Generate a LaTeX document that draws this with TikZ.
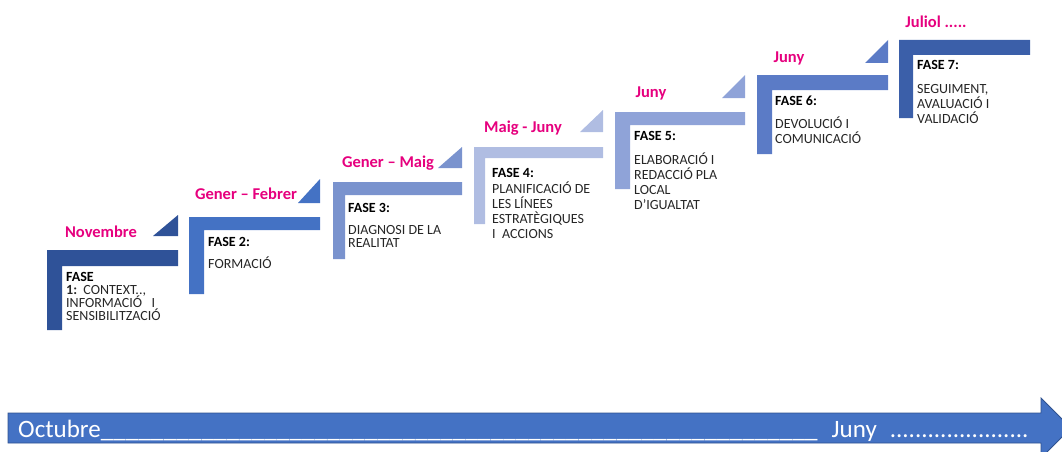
\documentclass[tikz,border=0pt]{standalone}
\usepackage{fontspec}
\setmainfont{Carlito}
\definecolor{cA}{RGB}{47,82,152}
\definecolor{cB}{RGB}{68,114,196}
\definecolor{cC}{RGB}{122,147,206}
\definecolor{cD}{RGB}{176,189,226}
\definecolor{cE}{RGB}{143,163,216}
\definecolor{cF}{RGB}{91,123,198}
\definecolor{cG}{RGB}{59,95,169}
\definecolor{pinkc}{RGB}{230,0,126}
\definecolor{arrowc}{RGB}{68,114,196}
\definecolor{arrowd}{RGB}{47,82,143}
\begin{document}
\begin{tikzpicture}[x=1pt,y=-1pt,
  month/.style={text=pinkc,font=\fontsize{16.5}{18}\selectfont\bfseries,inner sep=0pt},
  fasetxt/.style={anchor=base west,inner sep=0pt,font=\fontsize{14}{15}\selectfont,text=black!85},
  fasehd/.style={fasetxt,font=\fontsize{14}{15}\selectfont\bfseries,text=black}]
\useasboundingbox (0,0) rectangle (1062,452);
\clip (0,0) rectangle (1062,452);
% stairs: xl xv yt ybar xr ybot color
\newcommand{\stair}[8]{%
  \fill[#7] (#1,#3) -- (#5,#3) -- (#5,#4) -- (#2,#4) -- (#2,#6) -- (#1,#6) -- cycle;}
\newcommand{\tri}[5]{\fill[#5] (#1,#4) -- (#2,#4) -- (#2,#3) -- cycle;}
\stair{47}{62}{250}{266}{178}{330}{cA}{}
\tri{153}{178}{215}{236}{cA}
\stair{189}{204}{217}{230}{320}{294}{cB}{}
\tri{298}{320}{179}{203}{cB}
\stair{333}{345}{182}{195}{462}{259}{cC}{}
\tri{438}{462}{147}{168}{cC}
\stair{474}{485}{147}{158}{603}{224}{cD}{}
\tri{580}{603}{110}{132}{cD}
\stair{615}{630}{112}{125}{745}{189}{cE}{}
\tri{722}{745}{75}{98}{cE}
\stair{757}{772}{75}{90}{888}{154}{cF}{}
\tri{865}{888}{40}{63}{cF}
\stair{899}{913}{40}{55}{1030}{118}{cG}{}
% months
\node[month] (m1) at (101,232) {Novembre};
\node[month] (m2) at (246,194) {Gener – Febrer};
\node[month] (m3) at (388,163) {Gener – Maig};
\node[month] (m4) at (523,128) {Maig - Juny};
\node[month] (m5) at (651,93) {Juny};
\node[month] (m6) at (789,58) {Juny};
\node[month] (m7) at (936,22) {Juliol .....};
% fase 1
\node[fasehd] (f1a) at (66,281) {FASE};
\node[fasetxt] (f1b) at (66,294) {\textbf{1:}\ \ CONTEXT..,};
\node[fasetxt] (f1c) at (66,307) {INFORMACIÓ\ \ \ I};
\node[fasetxt] (f1d) at (66,320) {SENSIBILITZACIÓ};
% fase 2
\node[fasehd] (f2a) at (208,246) {FASE 2:};
\node[fasetxt] (f2b) at (208,268) {FORMACIÓ};
% fase 3
\node[fasehd] (f3a) at (348,212) {FASE 3:};
\node[fasetxt] (f3b) at (348,234) {DIAGNOSI DE LA};
\node[fasetxt] (f3c) at (348,247) {REALITAT};
% fase 4
\node[fasehd] (f4a) at (492,177) {FASE 4:};
\node[fasetxt] (f4b) at (492,193) {PLANIFICACIÓ DE};
\node[fasetxt] (f4c) at (492,208) {LES LÍNEES};
\node[fasetxt] (f4d) at (492,223) {ESTRATÈGIQUES};
\node[fasetxt] (f4e) at (492,238) {I\ \ ACCIONS};
% fase 5
\node[fasehd] (f5a) at (634,140) {FASE 5:};
\node[fasetxt] (f5b) at (634,164) {ELABORACIÓ I};
\node[fasetxt] (f5c) at (634,179) {REDACCIÓ PLA};
\node[fasetxt] (f5d) at (634,194) {LOCAL};
\node[fasetxt] (f5e) at (634,209) {D’IGUALTAT};
% fase 6
\node[fasehd] (f6a) at (775,105) {FASE 6:};
\node[fasetxt] (f6b) at (775,128) {DEVOLUCIÓ I};
\node[fasetxt] (f6c) at (775,143) {COMUNICACIÓ};
% fase 7
\node[fasehd] (f7a) at (917,70) {FASE 7:};
\node[fasetxt] (f7b) at (917,93) {SEGUIMENT,};
\node[fasetxt] (f7c) at (917,108) {AVALUACIÓ I};
\node[fasetxt] (f7d) at (917,123) {VALIDACIÓ};
% timeline arrow
\filldraw[fill=arrowc,draw=arrowd,line width=0.8pt]
  (8,413) -- (1041,413) -- (1041,398) -- (1071,428) -- (1041,458) -- (1041,443) -- (8,443) -- cycle;
\node[anchor=base west,inner sep=0pt,text=white,font=\fontsize{25}{27}\selectfont] (tl) at (18,437)
  {Octubre\hbox to 717pt{\xleaders\hbox{\_}\hfill}\hskip 14pt Juny\hskip 13pt ......................};
\end{tikzpicture}
\end{document}
